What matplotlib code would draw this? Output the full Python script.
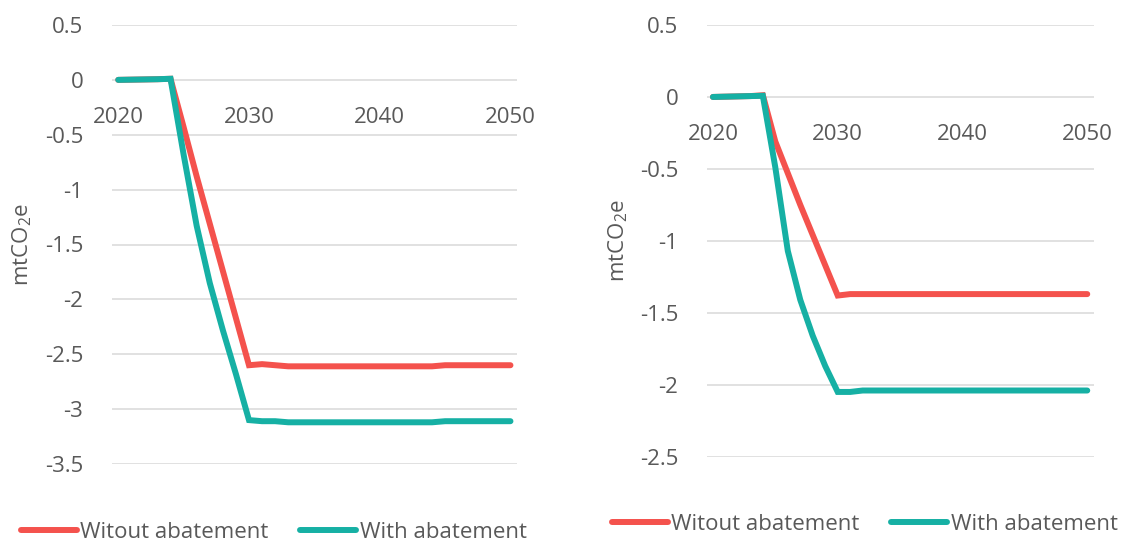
import matplotlib
matplotlib.use("Agg")
import matplotlib.pyplot as plt

plt.rcParams["font.family"] = ["Open Sans", "DejaVu Sans"]
plt.rcParams["mathtext.fontset"] = "custom"
plt.rcParams["mathtext.rm"] = "Open Sans"

years = list(range(2020, 2051))
xtick_years = [2020, 2030, 2040, 2050]

left_without = [0.0, 0.002, 0.004, 0.006, 0.01,
                -0.43, -0.88, -1.31, -1.74, -2.17, -2.60,
                -2.59, -2.60, -2.61,
                -2.61, -2.61, -2.61, -2.61, -2.61, -2.61, -2.61, -2.61, -2.61, -2.61, -2.61,
                -2.60, -2.60, -2.60, -2.60, -2.60, -2.60]
left_with = [0.0, 0.002, 0.004, 0.006, 0.01,
             -0.68, -1.33, -1.85, -2.28, -2.68, -3.10,
             -3.11, -3.11, -3.12,
             -3.12, -3.12, -3.12, -3.12, -3.12, -3.12, -3.12, -3.12, -3.12, -3.12, -3.12,
             -3.11, -3.11, -3.11, -3.11, -3.11, -3.11]

right_without = [0.0, 0.002, 0.004, 0.006, 0.012,
                 -0.31, -0.53, -0.75, -0.96, -1.17, -1.38,
                 -1.37, -1.37,
                 -1.37, -1.37, -1.37, -1.37, -1.37, -1.37, -1.37, -1.37, -1.37,
                 -1.37, -1.37, -1.37, -1.37, -1.37, -1.37, -1.37, -1.37, -1.37]
right_with = [0.0, 0.002, 0.004, 0.006, 0.008,
              -0.49, -1.07, -1.41, -1.66, -1.87, -2.05,
              -2.05, -2.04,
              -2.04, -2.04, -2.04, -2.04, -2.04, -2.04, -2.04, -2.04, -2.04,
              -2.04, -2.04, -2.04, -2.04, -2.04, -2.04, -2.04, -2.04, -2.04]

left_yticks = [0.5, 0, -0.5, -1, -1.5, -2, -2.5, -3, -3.5]
right_yticks = [0.5, 0, -0.5, -1, -1.5, -2, -2.5]

series_labels = ["Witout abatement", "With abatement"]
RED = "#F4524D"
TEAL = "#16B0A4"
GRID = "#D9D9D9"
TEXT = "#595959"
FS = 16

W, H = 1123, 543
fig = plt.figure(figsize=(W / 100, H / 100), dpi=100)


def px_axes(x0, y0, x1, y1):
    return fig.add_axes([x0 / W, 1 - y1 / H, (x1 - x0) / W, (y1 - y0) / H])


def tick_text(v):
    return ("%g" % v)


def draw_panel(ax, without, with_, yticks, ylabel_x, legend_anchor):
    l1, = ax.plot(years, without, color=RED, lw=4.3, solid_capstyle="round",
                  solid_joinstyle="miter", zorder=3, label=series_labels[0])
    l2, = ax.plot(years, with_, color=TEAL, lw=4.3, solid_capstyle="round",
                  solid_joinstyle="miter", zorder=3, label=series_labels[1])
    ax.set_xlim(2019.5, 2050.5)
    ax.set_ylim(min(yticks), max(yticks))
    ax.set_yticks(yticks)
    ax.set_yticklabels([tick_text(v) for v in yticks])
    ax.set_xticks(xtick_years)
    ax.set_xticklabels([str(y) for y in xtick_years])
    ax.grid(axis="y", color=GRID, lw=1.1, zorder=0)
    ax.grid(axis="x", visible=False)
    for s in ax.spines.values():
        s.set_visible(False)
    ax.spines["bottom"].set_position(("data", 0))
    ax.tick_params(axis="y", length=0, pad=20.5, labelsize=FS, labelcolor=TEXT)
    ax.tick_params(axis="x", length=0, pad=19.5, labelsize=FS, labelcolor=TEXT)
    ax.set_ylabel(r"mtCO$_\mathregular{2}$e", fontsize=FS, color=TEXT,
                  rotation=90, ha="center", va="center")
    ax.yaxis.set_label_coords(ylabel_x, 0.5)
    ax.set_facecolor("none")
    leg = ax.legend(handles=[l1, l2], loc="center left",
                    bbox_to_anchor=legend_anchor, bbox_transform=fig.transFigure,
                    ncol=2, frameon=False, fontsize=FS, handlelength=2.5,
                    handletextpad=0.17, columnspacing=1.42, borderpad=0,
                    borderaxespad=0, labelcolor=TEXT)
    return leg


ax_l = px_axes(111.7, 25, 517, 464)
ax_r = px_axes(706.7, 25, 1093.5, 456.7)

draw_panel(ax_l, left_without, left_with, left_yticks, -0.2213,
           (21 / W, 1 - 532 / H))
draw_panel(ax_r, right_without, right_with, right_yticks, -0.2293,
           (612 / W, 1 - 524 / H))

fig.savefig("out.png", dpi=100, facecolor="white")
